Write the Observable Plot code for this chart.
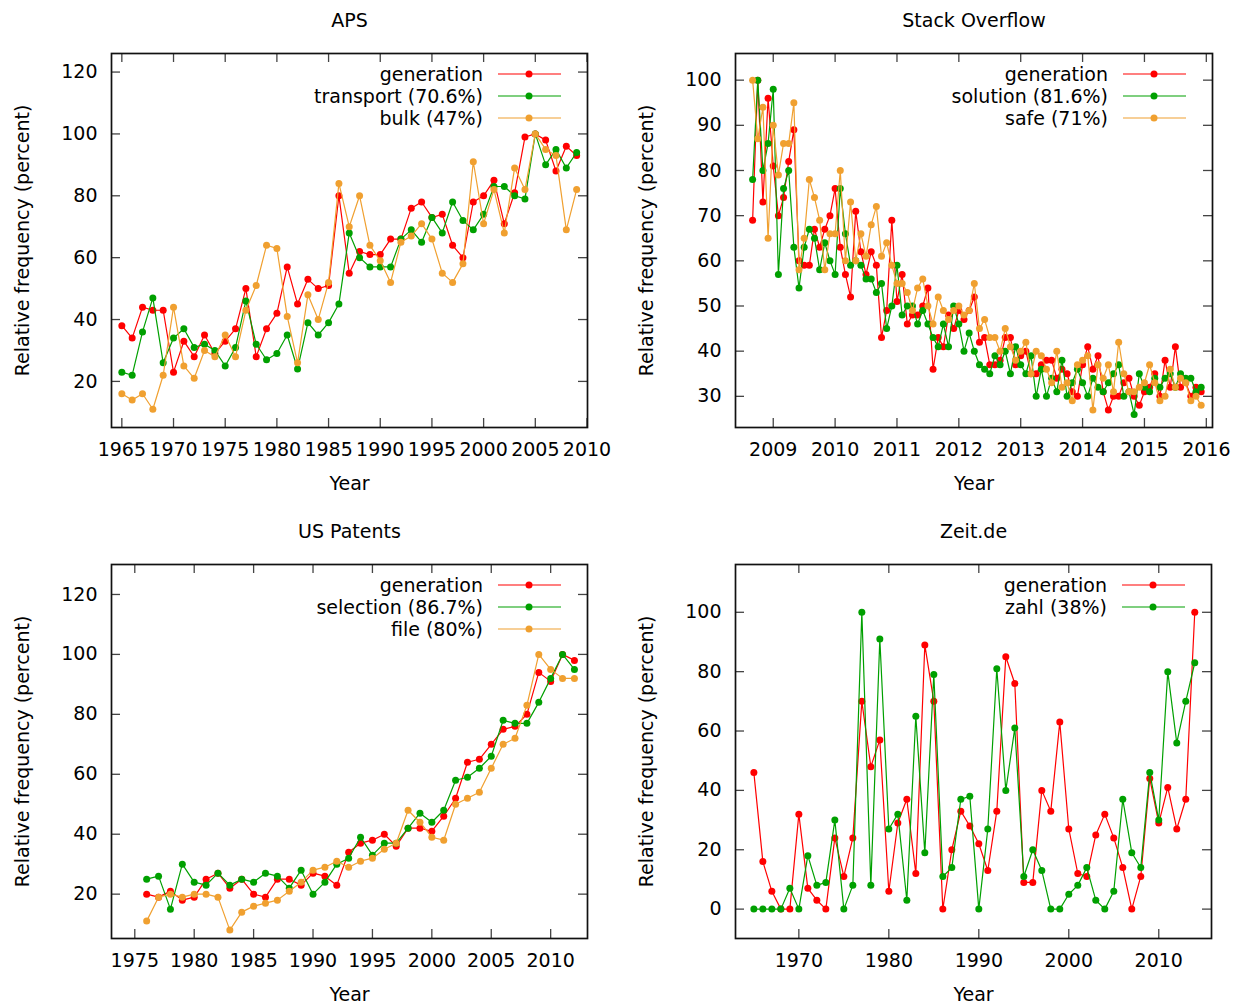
<!DOCTYPE html>
<html><head><meta charset="utf-8">
<script src="https://cdn.jsdelivr.net/npm/d3@7"></script>
<script src="https://cdn.jsdelivr.net/npm/@observablehq/plot@0.6"></script>
<style>
body{margin:0;background:#fff;width:1249px;height:1007px;position:relative;overflow:hidden;font-family:"DejaVu Sans",sans-serif;}
.panel{position:absolute;}
</style></head><body>
<script>
// ---------- DATA ----------
const apsYears = d3.range(1965, 2010);
const apsGeneration = [38,34,44,43,43,23,33,28,35,29,33,37,50,28,37,42,57,45,53,50,51,80,55,62,61,61,66,66,76,78,73,74,64,60,78,80,85,71,81,99,100,98,88,96,93];
const apsTransport  = [23,22,36,47,26,34,37,31,32,30,25,31,46,32,27,29,35,24,39,35,39,45,68,60,57,57,57,66,69,65,73,68,78,72,69,74,83,83,80,79,100,90,95,89,94];
const apsBulk       = [16,14,16,11,22,44,25,21,30,28,35,28,43,51,64,63,41,26,48,40,52,84,70,80,64,59,52,65,67,71,66,55,52,58,91,71,82,68,89,82,100,95,93,69,82];

// Stack Overflow: monthly, Sep 2008 .. Dec 2015 (fractional year)
const soMonths = d3.range(0, 88).map(i => 2008 + (8 + i) / 12);
const soGeneration = [69,100,73,96,81,70,74,82,89,60, 59,59,67,63,67,70,76,63,57,52, 71,62,57,62,59,43,49,69,51,57, 46,48,48,50,54,36,43,41,48,45, 49,47,49,52,42,43,37,37,38,43, 43,37,39,40,35,35,37,38,38,34, 36,35,31,30,37,41,36,39,31,27, 30,30,33,34,30,28,31,32,35,30, 38,32,41,32,33,30,32,31];
const soSolution   = [78,100,80,86,98,57,76,80,63,54, 63,67,65,58,64,60,57,76,66,59, 60,59,56,56,53,55,45,50,59,48, 50,50,46,49,46,43,41,46,41,50, 46,40,44,40,37,36,35,39,37,40, 35,41,37,35,39,30,36,30,34,31, 38,30,33,36,33,30,34,32,31,33, 35,37,30,31,26,35,32,31,34,32, 34,35,32,35,34,34,31,32];
const soSafe       = [100,87,94,65,90,79,86,86,95,58, 65,78,74,69,58,66,66,80,60,73, 60,66,61,68,72,61,64,59,55,55, 53,49,54,56,50,46,52,49,47,49, 50,48,49,55,45,47,43,43,40,45, 41,38,40,42,35,40,39,36,33,40, 32,33,29,37,38,39,27,37,34,37, 31,42,35,31,31,32,33,37,33,29, 30,36,32,34,33,29,30,28];

const usYears = d3.range(1976, 2013);
const usGeneration = [20,19,21,18,19,25,27,22,25,20,19,25,25,23,27,26,23,34,37,38,40,36,42,42,41,46,52,64,65,70,75,76,80,94,91,100,98];
const usSelection  = [25,26,15,30,24,23,27,23,25,24,27,26,22,28,20,24,30,32,39,33,37,37,42,47,44,48,58,59,62,66,78,77,77,84,92,100,95];
const usFile       = [11,19,20,19,20,20,19,8,14,16,17,18,21,24,28,29,31,29,31,32,35,37,48,44,39,38,50,52,54,62,70,72,83,100,95,92,92];

const zeitYears = d3.range(1965, 2015);
const zeitGeneration = [46,16,6,0,0,32,7,3,0,24,11,24,70,48,57,6,29,37,12,89,70,0,20,33,28,22,13,33,85,76,9,9,40,33,63,27,12,11,25,32,24,14,0,11,44,29,41,27,37,100];
const zeitZahl       = [0,0,0,0,7,0,18,8,9,30,0,8,100,8,91,27,32,3,65,19,79,11,14,37,38,0,27,81,40,61,11,20,13,0,0,5,8,14,3,0,6,37,19,14,46,30,80,56,70,83];

const apsLabels  = ["generation", "transport (70.6%)", "bulk (47%)"];
const soLabels   = ["generation", "solution (81.6%)", "safe (71%)"];
const usLabels   = ["generation", "selection (86.7%)", "file (80%)"];
const zeitLabels = ["generation", "zahl (38%)"];

const apsXTicks = d3.range(1965, 2011, 5), apsYTicks = d3.range(20, 121, 20);
const soXTicks = d3.range(2009, 2017), soYTicks = d3.range(30, 101, 10);
const usXTicks = d3.range(1975, 2011, 5), usYTicks = d3.range(20, 121, 20);
const zeitXTicks = d3.range(1970, 2011, 10), zeitYTicks = d3.range(0, 101, 20);

// ---------- STYLE ----------
const COLORS = ["#ff0000", "#00a000", "#f0a030"];
const FONT = "DejaVu Sans";
const FS = 19;

function makePanel(cfg) {
  const [left, top, width, height] = cfg.box;
  const [fx0, fy0, fx1, fy1] = cfg.frame;
  const fw = fx1 - fx0, fh = fy1 - fy0;
  const marks = [];
  const tk = {stroke: "#444", strokeWidth: 1.3};
  marks.push(Plot.tickX(cfg.xTicks, {x: d => d, insetTop: fh - 9, ...tk}));
  marks.push(Plot.tickX(cfg.xTicks, {x: d => d, insetBottom: fh - 9, ...tk}));
  marks.push(Plot.tickY(cfg.yTicks, {y: d => d, insetRight: fw - 9, ...tk}));
  marks.push(Plot.tickY(cfg.yTicks, {y: d => d, insetLeft: fw - 9, ...tk}));
  marks.push(Plot.axisX(cfg.xTicks, {tickSize: 0, tickPadding: 15, tickFormat: d => String(d), label: null}));
  marks.push(Plot.axisY(cfg.yTicks, {tickSize: 0, tickPadding: 14, tickFormat: d => String(d), label: null}));
  cfg.series.forEach((vals, i) => {
    const data = cfg.x.map((xv, j) => ({x: xv, y: vals[j]}));
    marks.push(Plot.line(data, {x: "x", y: "y", stroke: COLORS[i], strokeWidth: 1.2}));
    marks.push(Plot.dot(data, {x: "x", y: "y", fill: COLORS[i], r: 3.5}));
  });
  marks.push(Plot.frame({stroke: "#111", strokeWidth: 1.7}));
  marks.push(Plot.text([cfg.title], {frameAnchor: "top", dy: -33, lineAnchor: "middle", text: d => d}));
  marks.push(Plot.text(["Year"], {frameAnchor: "bottom", dy: 56, lineAnchor: "middle", text: d => d}));
  marks.push(Plot.text(["Relative frequency (percent)"], {frameAnchor: "left", dx: -89, rotate: -90, textAnchor: "middle", lineAnchor: "middle", text: d => d}));

  const chart = Plot.plot({
    width, height,
    marginLeft: fx0 - left, marginTop: fy0 - top,
    marginRight: left + width - fx1, marginBottom: top + height - fy1,
    x: {type: "linear", domain: cfg.xDomain},
    y: {type: "linear", domain: cfg.yDomain},
    style: {fontFamily: FONT, fontSize: FS + "px", background: "white", color: "black", overflow: "visible"},
    marks
  });
  chart.classList.add("panel");
  chart.style.left = left + "px";
  chart.style.top = top + "px";
  chart.style.position = "absolute";
  document.body.appendChild(chart);

  // legend overlay (line + point sample, like gnuplot's key)
  const lg = d3.select(document.body).append("svg")
    .attr("class", "panel")
    .style("position", "absolute").style("left", "0px").style("top", "0px")
    .attr("width", 1249).attr("height", 1007)
    .style("pointer-events", "none").style("overflow", "visible");
  cfg.labels.forEach((name, i) => {
    const y = fy0 + 21 + 22 * i;
    lg.append("text").attr("x", fx1 - 104).attr("y", y).attr("dy", "0.35em")
      .attr("text-anchor", "end").attr("font-family", FONT).attr("font-size", FS).attr("fill", "black").text(name);
    lg.append("line").attr("x1", fx1 - 89).attr("x2", fx1 - 26).attr("y1", y).attr("y2", y)
      .attr("stroke", COLORS[i]).attr("stroke-width", 1.2);
    lg.append("circle").attr("cx", fx1 - 58).attr("cy", y).attr("r", 3.5).attr("fill", COLORS[i]);
  });
}

makePanel({box: [0, 0, 624, 503], frame: [111, 53, 587, 427], xDomain: [1964, 2010.05], yDomain: [5.1, 126],
  xTicks: apsXTicks, yTicks: apsYTicks, x: apsYears, series: [apsGeneration, apsTransport, apsBulk], labels: apsLabels, title: "APS"});
makePanel({box: [624, 0, 625, 503], frame: [735, 53, 1212, 427], xDomain: [2008.39, 2016.1], yDomain: [23.1, 105.9],
  xTicks: soXTicks, yTicks: soYTicks, x: soMonths, series: [soGeneration, soSolution, soSafe], labels: soLabels, title: "Stack Overflow"});
makePanel({box: [0, 503, 624, 504], frame: [111, 564, 587, 938], xDomain: [1973.04, 2013.1], yDomain: [5.2, 130],
  xTicks: usXTicks, yTicks: usYTicks, x: usYears, series: [usGeneration, usSelection, usFile], labels: usLabels, title: "US Patents"});
makePanel({box: [624, 503, 625, 504], frame: [735, 564, 1211, 938], xDomain: [1962.96, 2015.86], yDomain: [-9.9, 116.1],
  xTicks: zeitXTicks, yTicks: zeitYTicks, x: zeitYears, series: [zeitGeneration, zeitZahl], labels: zeitLabels, title: "Zeit.de"});
</script></body></html>
